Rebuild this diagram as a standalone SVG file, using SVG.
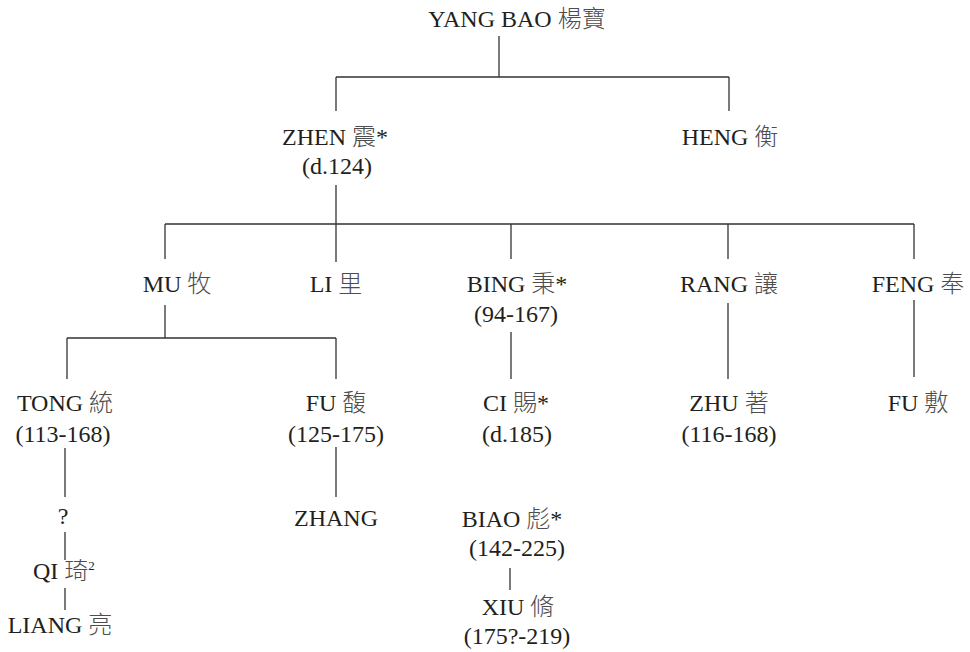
<svg xmlns="http://www.w3.org/2000/svg" width="970" height="652" viewBox="0 0 970 652">
<style>
text{font-family:"Liberation Serif","Times New Roman","DejaVu Serif","Noto Sans CJK TC",serif;font-size:24px;fill:#231f20;text-anchor:middle}
.c{fill:#4d4d4d;font-family:"Noto Sans CJK TC","Noto Sans CJK SC",sans-serif;font-weight:300}
.sup{font-size:13px}
#connectors path{stroke:#333;stroke-width:1.3;fill:none}
</style>
<rect width="970" height="652" fill="#fff"/>
<g id="connectors">
<path d="M499 36V77M336 77H729M336 77V111M729 77V111"/>
<path d="M336 185V262M165 224H914M165 224V259M511 224V259M728 224V259M914 224V259"/>
<path d="M165 305V338M67 338H336M67 338V379M336 338V379"/>
<path d="M511 332V379M728 303V379M914 300V377"/>
<path d="M65 448V497M65 532V560M65 588V610M336 447V497M510 568V590"/>
</g>
<g id="yangbao"><text x="517" y="27">YANG BAO <tspan class="c">楊寶</tspan></text></g>
<g id="zhen"><text x="335" y="145">ZHEN <tspan class="c">震</tspan>*</text><text x="337" y="174">(d.124)</text></g>
<g id="heng"><text x="730" y="145">HENG <tspan class="c">衡</tspan></text></g>
<g id="mu"><text x="177" y="292">MU <tspan class="c">牧</tspan></text></g>
<g id="li"><text x="336" y="292">LI <tspan class="c">里</tspan></text></g>
<g id="bing"><text x="517" y="292">BING <tspan class="c">秉</tspan>*</text><text x="516" y="322">(94-167)</text></g>
<g id="rang"><text x="729" y="292">RANG <tspan class="c">讓</tspan></text></g>
<g id="feng"><text x="918" y="292">FENG <tspan class="c">奉</tspan></text></g>
<g id="tong"><text x="65" y="411">TONG <tspan class="c">統</tspan></text><text x="63" y="442">(113-168)</text></g>
<g id="fu1"><text x="336" y="411">FU <tspan class="c">馥</tspan></text><text x="336" y="442">(125-175)</text></g>
<g id="ci"><text x="516" y="411">CI <tspan class="c">賜</tspan>*</text><text x="517" y="442">(d.185)</text></g>
<g id="zhu"><text x="729" y="411">ZHU <tspan class="c">著</tspan></text><text x="729" y="442">(116-168)</text></g>
<g id="fu2"><text x="918" y="411">FU <tspan class="c">敷</tspan></text></g>
<g id="unknown"><text x="63" y="524">?</text></g>
<g id="zhang"><text x="336" y="526">ZHANG</text></g>
<g id="biao"><text x="512" y="527">BIAO <tspan class="c">彪</tspan>*</text><text x="517" y="556">(142-225)</text></g>
<g id="qi"><text x="33" y="579" style="text-anchor:start">QI <tspan class="c">琦</tspan><tspan class="sup" dy="-9">2</tspan></text></g>
<g id="xiu"><text x="518" y="615">XIU <tspan class="c">脩</tspan></text><text x="517" y="644">(175?-219)</text></g>
<g id="liang"><text x="60" y="633">LIANG <tspan class="c">亮</tspan></text></g>
</svg>
